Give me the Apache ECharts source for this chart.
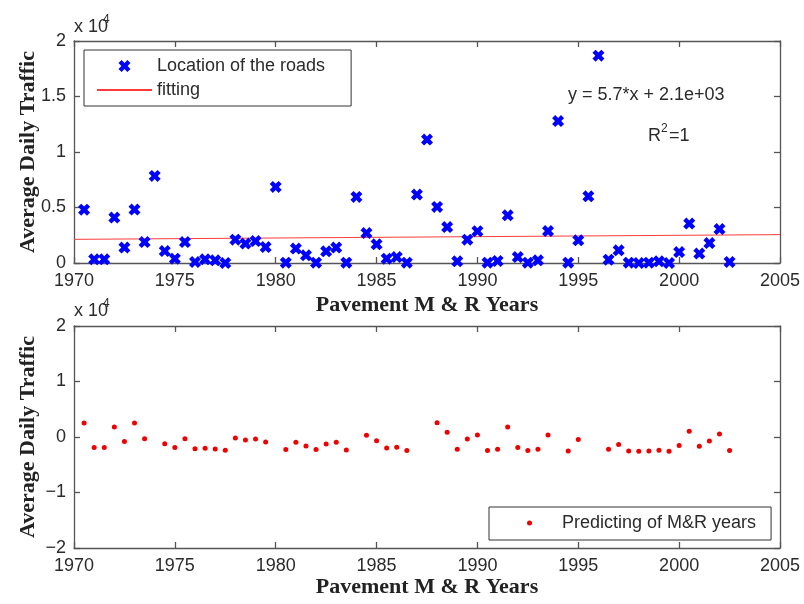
<!DOCTYPE html>
<html>
<head>
<meta charset="utf-8">
<script src="https://cdn.jsdelivr.net/npm/echarts@6/dist/echarts.min.js"></script>
<style>
html,body{margin:0;padding:0;background:#fff;}
#main{width:804px;height:604px;}
</style>
</head>
<body>
<div id="main"></div>
<script>
// ---- data ----
var years = [1970.5,1971,1971.5,1972,1972.5,1973,1973.5,1974,1974.5,
  1975,1975.5,1976,1976.5,1977,1977.5,1978,1978.5,1979,1979.5,
  1980,1980.5,1981,1981.5,1982,1982.5,1983,1983.5,1984,1984.5,
  1985,1985.5,1986,1986.5,1987,1987.5,1988,1988.5,1989,1989.5,
  1990,1990.5,1991,1991.5,1992,1992.5,1993,1993.5,1994,1994.5,
  1995,1995.5,1996,1996.5,1997,1997.5,1998,1998.5,1999,1999.5,
  2000,2000.5,2001,2001.5,2002,2002.5];
var traffic = [4800,330,330,4090,1390,4810,1890,7840,1080,
  390,1890,90,330,240,0,2100,1750,1980,1440,
  6850,30,1300,690,30,1050,1390,30,5950,2700,
  1680,390,540,30,6160,11120,5050,3240,150,2100,
  2860,30,180,4300,540,30,240,2880,12790,30,
  2040,6010,18680,300,1140,30,0,30,150,0,
  990,3550,850,1800,3060,90];
var predicted = [2510,-1880,-1880,1800,-800,2510,-300,null,-1200,
  -1880,-300,-2120,-2030,-2150,-2390,-180,-540,-360,-900,
  null,-2270,-960,-1620,-2270,-1260,-960,-2330,null,300,
  -660,-1970,-1850,-2450,null,null,2580,840,-2210,-360,
  360,-2450,-2210,1800,-1900,-2450,-2210,360,null,-2510,
  -470,null,null,-2210,-1370,-2510,-2570,-2510,-2390,-2570,
  -1550,1020,-1670,-720,540,-2450];
var fitYears = [1970, 2005];
var fitValues = [2130, 2555];
var xTicks = [1970, 1975, 1980, 1985, 1990, 1995, 2000, 2005];
var topYTicks = ['0', '0.5', '1', '1.5', '2'];
var bottomYTicks = ['\u22122', '\u22121', '0', '1', '2'];

// ---- build ----
var roadsData = years.map(function (y, i) { return [y, traffic[i]]; });
var predData = [];
years.forEach(function (y, i) { if (predicted[i] !== null) predData.push([y, predicted[i]]); });
var fitData = fitYears.map(function (y, i) { return [y, fitValues[i]]; });

var SANS = 'Liberation Sans, Arial, sans-serif';
var SERIF = 'Liberation Serif, Times New Roman, serif';
var axisColor = '#555';
var labelColor = '#2b2b2b';
var xSym = 'path://M0,2.6L2.6,0L5,2.4L7.4,0L10,2.6L7.6,5L10,7.4L7.4,10L5,7.6L2.6,10L0,7.4L2.4,5Z';

function xAx(grid, pos, show) {
  return {
    type: 'value', gridIndex: grid, position: pos,
    min: xTicks[0], max: xTicks[xTicks.length - 1], interval: 5,
    axisLine: { show: true, onZero: false, lineStyle: { color: axisColor, width: 1.3 } },
    axisTick: { show: true, inside: true, length: 6, lineStyle: { color: axisColor, width: 1.3 } },
    axisLabel: { show: show, margin: 9, fontSize: 18, color: labelColor, fontFamily: SANS,
      formatter: function (v) { return String(v); } },
    splitLine: { show: false },
    name: show ? 'Pavement M & R Years' : '',
    nameLocation: 'middle',
    nameGap: grid === 0 ? 31 : 27,
    nameTextStyle: { fontFamily: SERIF, fontWeight: 'bold', fontSize: 22, color: '#222' }
  };
}
function yAx(grid, pos, show, mn, mx, iv, ticks) {
  return {
    type: 'value', gridIndex: grid, position: pos,
    min: mn, max: mx, interval: iv,
    axisLine: { show: true, onZero: false, lineStyle: { color: axisColor, width: 1.3 } },
    axisTick: { show: true, inside: true, length: 6, lineStyle: { color: axisColor, width: 1.3 } },
    axisLabel: {
      show: show, margin: 8, fontSize: 18, color: labelColor, fontFamily: SANS,
      formatter: function (v) { return ticks[Math.round((v - mn) / iv)]; }
    },
    splitLine: { show: false },
    name: show ? 'Average Daily Traffic' : '',
    nameLocation: 'middle',
    nameGap: 35,
    nameMoveOverlap: false,
    nameTextStyle: { fontFamily: SERIF, fontWeight: 'bold', fontSize: 22, color: '#222' }
  };
}

var chart = echarts.init(document.getElementById('main'), null, { renderer: 'canvas' });
var option = {
  backgroundColor: '#fff',
  animation: false,
  grid: [
    { left: 74, top: 41, width: 706, height: 222 },
    { left: 74, top: 326, width: 706, height: 222 }
  ],
  xAxis: [xAx(0, 'bottom', true), xAx(0, 'top', false), xAx(1, 'bottom', true), xAx(1, 'top', false)],
  yAxis: [
    yAx(0, 'left', true, 0, 20000, 5000, topYTicks),
    yAx(0, 'right', false, 0, 20000, 5000, topYTicks),
    yAx(1, 'left', true, -20000, 20000, 10000, bottomYTicks),
    yAx(1, 'right', false, -20000, 20000, 10000, bottomYTicks)
  ],
  legend: [
    {
      data: [{ name: 'Location of the roads' }, { name: 'fitting', itemStyle: { opacity: 0 } }],
      orient: 'vertical', left: 84, top: 50, align: 'left',
      itemWidth: 55, itemHeight: 12, itemGap: 6,
      padding: [7, 26, 7, 12],
      borderColor: '#333', borderWidth: 1, backgroundColor: '#fff',
      textStyle: { fontSize: 18, color: labelColor, fontFamily: SANS },
      selectedMode: false
    },
    {
      data: ['Predicting of M&R years'],
      orient: 'vertical', left: 489, top: 507, align: 'left',
      itemWidth: 55, itemHeight: 5,
      padding: [7, 15, 8, 38],
      borderColor: '#333', borderWidth: 1, backgroundColor: '#fff',
      textStyle: { fontSize: 18, color: labelColor, fontFamily: SANS },
      selectedMode: false
    }
  ],
  series: [
    {
      name: 'fitting', type: 'line', xAxisIndex: 0, yAxisIndex: 0,
      data: fitData, symbol: 'none', showSymbol: false,
      lineStyle: { color: '#ff3b3b', width: 1 }, itemStyle: { color: '#ff3b3b' },
      z: 2
    },
    {
      name: 'Location of the roads', type: 'scatter', xAxisIndex: 0, yAxisIndex: 0,
      data: roadsData, symbol: xSym, symbolSize: 12,
      itemStyle: { color: '#0000ff', opacity: 1 },
      z: 3
    },
    {
      name: 'Predicting of M&R years', type: 'scatter', xAxisIndex: 2, yAxisIndex: 2,
      data: predData, symbol: 'circle', symbolSize: 5,
      itemStyle: { color: '#f00000', opacity: 1 },
      z: 3
    }
  ],
  graphic: [
    { type: 'text', left: 74, top: 18, style: { text: 'x 10', fontSize: 18, fontFamily: SANS, fill: labelColor } },
    { type: 'text', left: 103, top: 14, style: { text: '4', fontSize: 12, fontFamily: SANS, fill: labelColor } },
    { type: 'text', left: 74, top: 302, style: { text: 'x 10', fontSize: 18, fontFamily: SANS, fill: labelColor } },
    { type: 'text', left: 103, top: 298, style: { text: '4', fontSize: 12, fontFamily: SANS, fill: labelColor } },
    { type: 'text', left: 568, top: 86, style: { text: 'y = 5.7*x + 2.1e+03', fontSize: 18, fontFamily: SANS, fill: labelColor } },
    { type: 'text', left: 648, top: 127, style: { text: 'R', fontSize: 18, fontFamily: SANS, fill: labelColor } },
    { type: 'text', left: 661, top: 123, style: { text: '2', fontSize: 12, fontFamily: SANS, fill: labelColor } },
    { type: 'text', left: 669, top: 127, style: { text: '=1', fontSize: 18, fontFamily: SANS, fill: labelColor } }
  ]
};
chart.setOption(option);
</script>
</body>
</html>
